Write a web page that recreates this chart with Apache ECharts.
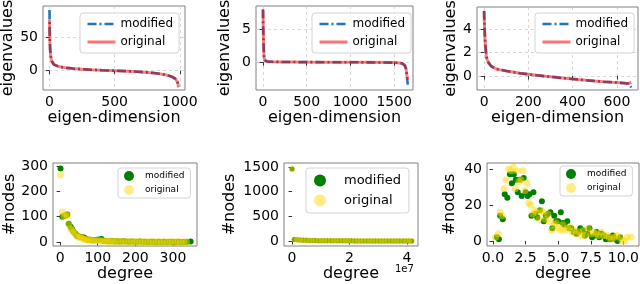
<!DOCTYPE html>
<html><head><meta charset="utf-8">
<script src="https://cdn.jsdelivr.net/npm/echarts@6/dist/echarts.min.js"></script>
<style>html,body{margin:0;padding:0;background:#fff}#c{width:640px;height:284px}</style>
</head><body><div id="c"></div>
<script>
// ---------- Top row: sorted eigenvalues ----------
const p1Idx  = [0,1,2,3,5,8,12,18,25,35,50,70,100,130,180,250,320,400,500,600,680,750,800,850,890,920,945,960,970,978,984,988,990];
const p1Mod  = [91,62,50,42,32,24,18,14,11,9,7.5,6.2,5,4.2,3.2,2.2,1.4,0.7,0,-0.8,-1.6,-2.6,-3.5,-4.8,-6.2,-7.8,-9.6,-11.2,-12.8,-15,-18,-21,-25];
const p1Orig = [77,60,49,41,32,24,18,14,11,9,7.5,6.2,5,4.2,3.2,2.2,1.4,0.7,0,-0.8,-1.6,-2.6,-3.5,-4.8,-6.2,-7.8,-9.6,-11.2,-12.8,-15,-18,-21,-24];
const p1XTicks = [0,500,1000];
const p1YTicks = [0,50];

const p2Idx  = [0,1,2,3,4,6,8,10,12,15,20,30,50,100,200,400,800,1200,1500,1560,1590,1610,1622,1630,1635,1640,1645,1650,1655];
const p2Mod  = [8.0,7.0,6.0,5.2,4.4,3.2,2.1,1.3,0.8,0.5,0.3,0.18,0.1,0.06,0.04,0.02,0.0,-0.02,-0.06,-0.1,-0.18,-0.3,-0.5,-0.75,-1.0,-1.4,-2.0,-2.7,-3.4];
const p2Orig = [7.9,7.0,6.0,5.2,4.4,3.2,2.1,1.3,0.8,0.5,0.3,0.18,0.1,0.06,0.04,0.02,0.0,-0.02,-0.06,-0.1,-0.18,-0.3,-0.5,-0.75,-1.0,-1.4,-2.0,-2.4,-2.6];
const p2XTicks = [0,500,1000,1500];
const p2YTicks = [0,5];

const p3Idx  = [0,1,2,3,4,6,8,10,13,18,25,33,45,56,75,101,130,162,200,237,275,313,350,388,425,464,500,539,580,615,640,653,660,665];
const p3Mod  = [5.55,4.8,4.2,3.66,3.2,2.6,2.15,1.75,1.45,1.2,1.0,0.82,0.7,0.6,0.52,0.43,0.34,0.24,0.15,0.06,-0.02,-0.09,-0.16,-0.23,-0.3,-0.37,-0.43,-0.49,-0.54,-0.58,-0.62,-0.66,-0.8,-0.97];
const p3Orig = [5.5,4.8,4.2,3.66,3.2,2.6,2.15,1.75,1.45,1.2,1.0,0.82,0.7,0.6,0.52,0.43,0.34,0.24,0.15,0.06,-0.02,-0.09,-0.16,-0.23,-0.3,-0.37,-0.43,-0.49,-0.54,-0.58,-0.62,-0.64,-0.58,-0.52];
const p3XTicks = [0,200,400,600];
const p3YTicks = [0,2,4];

// ---------- Bottom row: degree distributions ----------
const p4ModDeg   = [1,6,10,15,19,23,28,32,36,41,45,50,54,58,63,67,72,76,80,86,92,98,104,110,115,121,127,133,139,145,150,156,162,168,175,183,190,197,204,212,219,226,234,241,248,256,263,270,277,285,292,299,307,314,321,329,336,347];
const p4ModCnt   = [290,100,103,105,108,72,60,50,40,32,25,22,20,19,18,14,10,9,9,7,8,9,10,12,5,4,3,3,4,2,3,2,2,3,2,1,2,1,1,2,1,1,0,1,1,0,1,0,1,0,1,0,0,1,0,0,0,2];
const p4OrigDeg  = [1,6,10,15,19,23,28,32,36,41,45,50,54,58,63,67,72,76,82,88,93,99,105,111,117,123,128,134,140,146,153,161,168,175,183,190,197,204,212,219,226,234,241,248,256,263,270,277,285,292,299,307,314,321,329,336];
const p4OrigCnt  = [265,118,100,108,104,70,52,45,38,30,22,18,20,15,12,10,8,8,7,6,6,5,5,4,4,3,3,3,2,2,3,2,2,2,1,2,1,1,1,1,1,0,1,1,0,1,0,1,0,0,1,0,1,0,0,1];
const p4XTicks = [0,100,200,300];
const p4YTicks = [0,100,200,300];

// degree in units of 1e7
const p5ModDeg  = [0,0.08,0.18,0.28,0.38,0.5,0.6,0.7,0.8,0.92,1.02,1.12,1.22,1.34,1.44,1.54,1.64,1.76,1.86,1.96,2.06,2.18,2.28,2.38,2.48,2.6,2.7,2.8,2.9,3.02,3.12,3.22,3.32,3.44,3.54,3.64,3.74,3.86,3.96,4.06,4.16];
const p5ModCnt  = [1460,34,28,22,18,14,12,10,9,8,7,7,6,6,5,5,5,4,4,4,4,3,3,3,3,3,3,2,2,2,2,2,2,2,2,1,1,1,1,1,1];
const p5OrigDeg = [0,0.08,0.18,0.28,0.38,0.5,0.6,0.7,0.8,0.92,1.02,1.12,1.22,1.34,1.44,1.54,1.64,1.76,1.86,1.96,2.06,2.18,2.28,2.38,2.48,2.6,2.7,2.8,2.9,3.02,3.12,3.22,3.32,3.44,3.54,3.64,3.74,3.86,3.96,4.06,4.16];
const p5OrigCnt = [1462,32,27,22,17,14,12,10,9,8,7,6,6,5,5,5,4,4,4,4,3,3,3,3,3,3,2,2,2,2,2,2,2,2,1,1,1,1,1,1,1];
const p5XTicks = [0,2,4];
const p5YTicks = [0,500,1000,1500];

const p6ModDeg  = [0.3,0.45,0.55,0.75,0.9,1.1,1.3,1.45,1.6,1.75,1.9,2.05,2.2,2.35,2.5,2.65,2.8,2.95,3.1,3.25,3.4,3.6,3.75,3.9,4.05,4.2,4.4,4.55,4.7,4.85,5.0,5.2,5.35,5.5,5.7,5.85,6.0,6.2,6.4,6.55,6.7,6.9,7.05,7.25,7.4,7.6,7.8,7.95,8.15,8.3,8.5,8.65,8.85,9.0,9.2,9.4,9.55,9.75];
const p6ModCnt  = [2,1,14,12,26,24,37,32,37,34,27,34,25,35,27,25,26,14,27,15,13,17,22,11,14,15,16,7,14,11,11,16,10,9,11,7,7,5,4,5,7,6,3,4,7,2,3,5,2,4,3,1,2,1,3,1,0,2];
const p6OrigDeg = [0.2,0.4,0.55,0.7,0.85,1.0,1.2,1.4,1.55,1.7,1.85,2.0,2.15,2.3,2.45,2.6,2.75,2.9,3.05,3.2,3.35,3.5,3.7,3.85,4.0,4.2,4.35,4.5,4.7,4.85,5.0,5.2,5.35,5.55,5.7,5.9,6.05,6.2,6.4,6.6,6.8,6.95,7.1,7.3,7.5,7.7,7.9,8.1,8.3,8.5,8.7,8.9,9.1,9.3,9.5,9.7,9.9,10.1,10.3,10.6];
const p6OrigCnt = [2,4,16,14,29,34,40,39,41,29,39,33,34,39,28,32,21,20,15,17,16,12,17,16,12,15,11,6,9,10,7,6,9,6,7,8,5,6,4,5,3,6,3,7,4,5,4,3,5,3,3,2,1,2,3,2,0,0,2,2];
const p6XTicks = [0,2.5,5,7.5,10];
const p6YTicks = [0,20,40];

const FONT = 'DejaVu Sans';
const pairs = (xs, ys) => xs.map((x, i) => [x, ys[i]]);

const grids = [
  {left:43,  top:6,   width:142, height:84},
  {left:256, top:6,   width:157, height:84},
  {left:477, top:7,   width:161, height:83},
  {left:53,  top:163, width:144, height:83},
  {left:284, top:163, width:134, height:83},
  {left:487, top:163, width:152, height:83}
].map(g => Object.assign({show:true, borderColor:'#808080', borderWidth:1, backgroundColor:'#fff', outerBoundsMode:'none', containLabel:false}, g));

function xAx(gi, min, max, ticks, name, gridLines, fmt) {
  return {type:'value', gridIndex:gi, min:min, max:max, scale:true,
    axisLine:{show:false},
    axisTick:{show:true, inside:false, length:3.5, customValues:ticks, lineStyle:{color:'#333'}},
    axisLabel:{customValues:ticks, color:'#000', fontSize:14, fontFamily:FONT, margin:5, hideOverlap:false, formatter: fmt || (v => String(v))},
    splitLine:{show:gridLines, lineStyle:{type:[3,3], color:'#cfcfcf', width:0.8}},
    name:name, nameLocation:'middle', nameGap:18,
    nameTextStyle:{color:'#000', fontSize:16, fontFamily:FONT}};
}
function yAx(gi, min, max, ticks, name, gap, gridLines) {
  return {type:'value', gridIndex:gi, min:min, max:max, scale:true,
    axisLine:{show:false},
    axisTick:{show:true, inside:false, length:3.5, customValues:ticks, lineStyle:{color:'#333'}},
    axisLabel:{customValues:ticks, color:'#000', fontSize:14, fontFamily:FONT, margin:5, hideOverlap:false, formatter: v => String(v)},
    splitLine:{show:gridLines, lineStyle:{type:[3,3], color:'#cfcfcf', width:0.8}},
    name:name, nameLocation:'middle', nameGap:gap, nameRotate:90,
    nameTextStyle:{color:'#000', fontSize:16, fontFamily:FONT}};
}

const xAxes = [
  xAx(0, -50, 1040, p1XTicks, 'eigen-dimension', true),
  xAx(1, -80, 1715, p2XTicks, 'eigen-dimension', true),
  xAx(2, -32, 695, p3XTicks, 'eigen-dimension', true),
  xAx(3, -19, 364, p4XTicks, 'degree', false),
  xAx(4, -0.28, 4.38, p5XTicks, 'degree', false),
  xAx(5, -0.46, 11.2, p6XTicks, 'degree', false, v => v.toFixed(1))
];
const yAxes = [
  yAx(0, -29, 97, p1YTicks, 'eigenvalues', 25, true),
  yAx(1, -4.2, 8.5, p2YTicks, 'eigenvalues', 23, true),
  yAx(2, -1.19, 5.87, p3YTicks, 'eigenvalues', 15, true),
  yAx(3, -16, 312, p4YTicks, '#nodes', 34, false),
  yAx(4, -100, 1580, p5YTicks, '#nodes', 46, false),
  yAx(5, -2.8, 43.3, p6YTicks, '#nodes', 29, false)
];

const BLUE = '#1f77b4', RED = 'rgba(255,0,0,0.5)';
const GREEN = '#008000', GOLD = 'rgba(255,215,0,0.6)';
const DASHDOT = [9,3,2,3];

function modLine(i, data, suffix) {
  return {type:'line', name:'modified'+suffix, xAxisIndex:i, yAxisIndex:i, data:data,
    symbol:'none', showSymbol:false, animation:false, z:2,
    lineStyle:{color:BLUE, width:2.6, type:DASHDOT}, itemStyle:{color:BLUE}};
}
function origLine(i, data, suffix) {
  return {type:'line', name:'original'+suffix, xAxisIndex:i, yAxisIndex:i, data:data,
    symbol:'none', showSymbol:false, animation:false, z:3,
    lineStyle:{color:RED, width:3}, itemStyle:{color:RED}};
}
function modSc(i, data, suffix, size) {
  return {type:'scatter', name:'modified'+suffix, xAxisIndex:i, yAxisIndex:i, data:data,
    symbol:'circle', symbolSize:size, animation:false, z:2, itemStyle:{color:GREEN, opacity:1}};
}
function origSc(i, data, suffix, size) {
  return {type:'scatter', name:'original'+suffix, xAxisIndex:i, yAxisIndex:i, data:data,
    symbol:'circle', symbolSize:size, animation:false, z:3, itemStyle:{color:GOLD}};
}

const series = [
  modLine(0, pairs(p1Idx, p1Mod), ''),      origLine(0, pairs(p1Idx, p1Orig), ''),
  modLine(1, pairs(p2Idx, p2Mod), ' '),     origLine(1, pairs(p2Idx, p2Orig), ' '),
  modLine(2, pairs(p3Idx, p3Mod), '  '),    origLine(2, pairs(p3Idx, p3Orig), '  '),
  modSc(3, pairs(p4ModDeg, p4ModCnt), '   ', 6),   origSc(3, pairs(p4OrigDeg, p4OrigCnt), '   ', 7),
  modSc(4, pairs(p5ModDeg, p5ModCnt), '    ', 5),  origSc(4, pairs(p5OrigDeg, p5OrigCnt), '    ', 6),
  modSc(5, pairs(p6ModDeg, p6ModCnt), '     ', 6), origSc(5, pairs(p6OrigDeg, p6OrigCnt), '     ', 7)
];

function lineLeg(suffix, left, top) {
  return {
    data:[
      {name:'modified'+suffix, itemStyle:{opacity:0}, lineStyle:{color:BLUE, width:2.5, type:DASHDOT, opacity:1}},
      {name:'original'+suffix, itemStyle:{opacity:0}, lineStyle:{color:'rgba(255,0,0,0.55)', width:3, type:'solid', opacity:1}}
    ],
    left:left, top:top, orient:'vertical', selectedMode:false,
    backgroundColor:'rgba(255,255,255,0.85)', borderColor:'#d4d4d4', borderWidth:1, borderRadius:3,
    padding:[5,6], itemWidth:28, itemHeight:12, itemGap:6,
    formatter: n => n.trim(),
    textStyle:{color:'#000', fontFamily:FONT, fontSize:12}
  };
}
function scLeg(suffix, left, top, o) {
  return Object.assign({
    data:['modified'+suffix, 'original'+suffix], left:left, top:top, orient:'vertical',
    selectedMode:false, backgroundColor:'rgba(255,255,255,0.85)', borderColor:'#d4d4d4', borderWidth:1, borderRadius:3,
    icon:'circle', formatter: n => n.trim()
  }, o);
}
const legends = [
  lineLeg('', 80, 13),
  lineLeg(' ', 312, 13),
  lineLeg('  ', 535, 13),
  scLeg('   ', 118, 168, {padding:[3,6], itemWidth:16, itemHeight:10, itemGap:4, textStyle:{color:'#000', fontFamily:FONT, fontSize:9, padding:[0,0,0,3]}}),
  scLeg('    ', 306, 168, {padding:[6,8], itemWidth:18, itemHeight:12, itemGap:7, textStyle:{color:'#000', fontFamily:FONT, fontSize:13, padding:[0,0,0,10]}}),
  scLeg('     ', 560, 166, {padding:[3,6], itemWidth:16, itemHeight:10, itemGap:4, textStyle:{color:'#000', fontFamily:FONT, fontSize:9, padding:[0,0,0,3]}})
];

const chart = echarts.init(document.getElementById('c'), null, {renderer:'canvas'});
chart.setOption({
  animation:false,
  backgroundColor:'#fff',
  grid:grids, xAxis:xAxes, yAxis:yAxes, series:series, legend:legends,
  graphic:[{type:'text', left:395, top:264, style:{text:'1e7', fontSize:10, fontFamily:FONT, fill:'#000'}}]
});
</script></body></html>
